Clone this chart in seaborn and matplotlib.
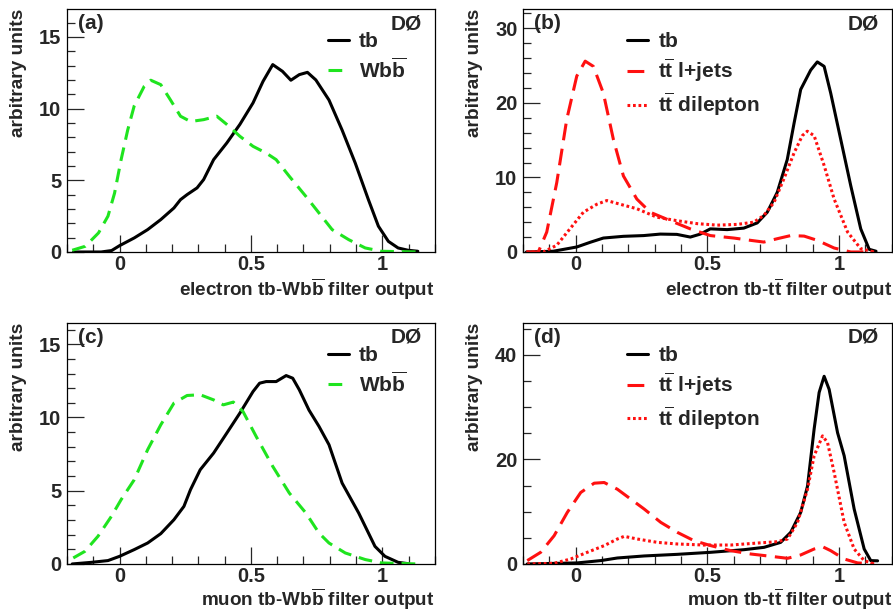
import matplotlib
matplotlib.use("Agg")
import matplotlib.pyplot as plt
from matplotlib.ticker import MultipleLocator
import seaborn as sns
import pandas as pd

# panel (a): electron tb-Wbb filter
a_tb_x = [-0.175, -0.07, -0.03, 0.0, 0.056, 0.107, 0.157, 0.207, 0.232, 0.257, 0.295, 0.32, 0.358,
          0.408, 0.458, 0.508, 0.546, 0.583, 0.62, 0.652, 0.684, 0.715, 0.747, 0.797, 0.847, 0.897,
          0.947, 0.985, 1.023, 1.06, 1.098, 1.135]
a_tb_y = [0.0, 0.0, 0.1, 0.44, 0.98, 1.56, 2.26, 3.07, 3.65, 4.0, 4.47, 5.05, 6.44,
          7.6, 8.9, 10.4, 11.9, 13.07, 12.6, 11.98, 12.37, 12.53, 12.0, 10.6, 8.5, 6.2,
          3.65, 1.8, 0.74, 0.28, 0.12, 0.05]
a_wbb_x = [-0.18, -0.13, -0.08, -0.044, -0.019, 0.006, 0.031, 0.056, 0.094, 0.119, 0.157, 0.194,
           0.232, 0.27, 0.32, 0.37, 0.408, 0.458, 0.508, 0.558, 0.596, 0.646, 0.709, 0.759, 0.809,
           0.872, 0.935, 0.997, 1.135]
a_wbb_y = [0.12, 0.4, 1.33, 2.5, 4.1, 6.44, 8.5, 10.2, 11.56, 11.98, 11.67, 10.6,
           9.47, 9.1, 9.23, 9.47, 8.9, 8.07, 7.37, 6.9, 6.44, 5.28, 3.88, 2.72, 1.56,
           0.86, 0.28, 0.05, 0.0]

# panel (b): electron tb-ttbar filter
b_tb_x = [-0.187, -0.085, 0.004, 0.055, 0.105, 0.181, 0.258, 0.321, 0.384, 0.435, 0.473, 0.511,
          0.575, 0.638, 0.689, 0.727, 0.765, 0.803, 0.829, 0.854, 0.892, 0.917, 0.943, 0.968,
          1.006, 1.044, 1.082, 1.114, 1.14]
b_tb_y = [0.0, 0.1, 0.67, 1.3, 1.87, 2.1, 2.2, 2.4, 2.36, 2.0, 2.4, 3.1,
          3.0, 3.2, 3.9, 5.33, 8.0, 12.4, 17.3, 21.8, 24.4, 25.5, 24.9, 21.3,
          15.1, 8.9, 3.1, 0.36, 0.1]
b_lj_x = [-0.187, -0.142, -0.11, -0.072, -0.034, 0.004, 0.036, 0.067, 0.105, 0.143, 0.181, 0.232,
          0.283, 0.359, 0.435, 0.511, 0.6, 0.664, 0.714, 0.765, 0.816, 0.867, 0.917, 0.981,
          1.044, 1.133]
b_lj_y = [0.0, 0.0, 2.67, 9.3, 17.8, 23.6, 25.6, 24.9, 21.3, 15.1, 10.2, 7.1,
          5.33, 4.2, 3.1, 2.2, 1.87, 1.56, 1.33, 1.78, 2.2, 2.13, 1.56, 0.53,
          0.0, 0.0]
b_dl_x = [-0.187, -0.123, -0.072, -0.022, 0.029, 0.08, 0.118, 0.169, 0.232, 0.308, 0.384, 0.461,
          0.537, 0.613, 0.676, 0.714, 0.753, 0.79, 0.829, 0.86, 0.879, 0.905, 0.943, 0.981,
          1.032, 1.082, 1.133]
b_dl_y = [0.0, 0.0, 0.9, 3.1, 5.33, 6.4, 6.9, 6.4, 5.8, 4.67, 4.2, 3.8,
          3.6, 3.7, 4.0, 4.9, 6.67, 9.8, 13.3, 15.6, 16.2, 15.6, 11.6, 7.1,
          2.67, 0.44, 0.0]

# panel (c): muon tb-Wbb filter
c_tb_x = [-0.18, -0.107, -0.044, 0.0, 0.056, 0.107, 0.157, 0.207, 0.245, 0.27, 0.307, 0.358,
          0.408, 0.458, 0.508, 0.533, 0.558, 0.596, 0.634, 0.659, 0.684, 0.721, 0.759, 0.797,
          0.847, 0.91, 0.972, 1.01, 1.06, 1.098]
c_tb_y = [0.0, 0.11, 0.23, 0.52, 0.98, 1.43, 2.07, 3.02, 3.93, 5.07, 6.43, 7.57,
          8.93, 10.3, 11.77, 12.34, 12.45, 12.45, 12.86, 12.68, 11.89, 10.5, 9.39, 8.14,
          5.52, 3.48, 1.2, 0.52, 0.11, 0.02]
c_wbb_x = [-0.176, -0.132, -0.082, -0.031, 0.006, 0.056, 0.107, 0.157, 0.207, 0.257, 0.307, 0.358,
           0.395, 0.433, 0.47, 0.52, 0.583, 0.646, 0.709, 0.759, 0.797, 0.859, 0.935, 0.997, 1.135]
c_wbb_y = [0.41, 0.86, 1.89, 3.25, 4.39, 5.75, 7.8, 9.5, 10.98, 11.5, 11.55, 11.2,
           10.86, 11.05, 10.4, 8.7, 6.66, 4.84, 3.48, 2.11, 1.43, 0.75, 0.3, 0.07, 0.0]

# panel (d): muon tb-ttbar filter
d_tb_x = [-0.184, 0.006, 0.095, 0.158, 0.26, 0.386, 0.513, 0.639, 0.715, 0.778, 0.816, 0.854,
          0.88, 0.905, 0.924, 0.943, 0.962, 0.994, 1.019, 1.057, 1.095, 1.12, 1.146]
d_tb_y = [0.0, 0.2, 0.64, 1.14, 1.53, 1.84, 2.23, 2.73, 3.18, 4.13, 6.04, 9.86,
          14.9, 25.8, 32.8, 35.9, 33.4, 25.1, 20.7, 10.5, 2.86, 0.64, 0.6]
d_lj_x = [-0.184, -0.133, -0.082, -0.032, 0.019, 0.07, 0.108, 0.158, 0.209, 0.26, 0.323, 0.386,
          0.449, 0.513, 0.589, 0.665, 0.741, 0.804, 0.854, 0.905, 0.937, 0.968, 1.019, 1.07, 1.133]
d_lj_y = [0.64, 2.23, 5.4, 9.86, 13.67, 15.45, 15.58, 14.3, 12.4, 10.5, 7.95, 6.04,
          4.45, 3.5, 2.54, 1.9, 1.46, 1.08, 1.72, 2.86, 3.3, 2.54, 0.95, 0.2, 0.0]
d_dl_x = [-0.184, -0.082, -0.019, 0.044, 0.108, 0.158, 0.184, 0.234, 0.31, 0.386, 0.487, 0.589,
          0.69, 0.766, 0.804, 0.842, 0.88, 0.905, 0.937, 0.956, 0.981, 1.019, 1.057, 1.095, 1.133]
d_dl_y = [0.0, 0.13, 0.95, 2.23, 3.5, 4.77, 5.28, 4.77, 4.13, 3.82, 3.62, 3.62,
          4.0, 4.26, 4.77, 7.95, 14.3, 20.7, 24.5, 23.2, 17.5, 7.95, 2.86, 0.64, 0.0]

lab_tb = "tb"
lab_wbb = r"Wb$\overline{\mathrm{b}}$"
lab_lj = r"t$\overline{\mathrm{t}}$ l+jets"
lab_dl = r"t$\overline{\mathrm{t}}$ dilepton"

sns.set_theme(style="ticks")
plt.rcParams['font.family'] = ['Liberation Sans', 'DejaVu Sans']
plt.rcParams['font.weight'] = 'bold'
plt.rcParams['mathtext.fontset'] = 'custom'
plt.rcParams['mathtext.rm'] = 'Liberation Sans:bold'
plt.rcParams['mathtext.it'] = 'Liberation Sans:bold'
plt.rcParams['mathtext.bf'] = 'Liberation Sans:bold'

GREEN = '#1fe41f'
RED = '#ff1010'
LW = 2.2

fig = plt.figure(figsize=(8.93, 6.11), dpi=100)
boxes = {
    'a': [0.075, 0.5876, 0.412, 0.3977],
    'b': [0.5857, 0.5876, 0.413, 0.3977],
    'c': [0.075, 0.077, 0.412, 0.3944],
    'd': [0.5857, 0.077, 0.413, 0.3944],
}

panels = [
    ('a', [(a_tb_x, a_tb_y, lab_tb, 'black', '-'),
           (a_wbb_x, a_wbb_y, lab_wbb, GREEN, (0, (4.5, 2.6)))],
     16.95, 5, 1, r"electron tb-Wb$\overline{\mathrm{b}}$ filter output", 0.709, -0.1),
    ('b', [(b_tb_x, b_tb_y, lab_tb, 'black', '-'),
           (b_lj_x, b_lj_y, lab_lj, RED, (0, (5.5, 2.8))),
           (b_dl_x, b_dl_y, lab_dl, RED, (0, (0.9, 0.9)))],
     32.6, 10, 2, r"electron tb-t$\overline{\mathrm{t}}$ filter output", 0.282, -0.1),
    ('c', [(c_tb_x, c_tb_y, lab_tb, 'black', '-'),
           (c_wbb_x, c_wbb_y, lab_wbb, GREEN, (0, (4.5, 2.6)))],
     16.45, 5, 1, r"muon tb-Wb$\overline{\mathrm{b}}$ filter output", 0.709, -0.093),
    ('d', [(d_tb_x, d_tb_y, lab_tb, 'black', '-'),
           (d_lj_x, d_lj_y, lab_lj, RED, (0, (5.5, 2.8))),
           (d_dl_x, d_dl_y, lab_dl, RED, (0, (0.9, 0.9)))],
     46.1, 20, 5, r"muon tb-t$\overline{\mathrm{t}}$ filter output", 0.282, -0.093),
]

for key, series, ytop, ymaj, ymin, xlab, legx, xlab_y in panels:
    ax = fig.add_axes(boxes[key])
    for xs, ys, lab, col, ls in series:
        df = pd.DataFrame({'x': xs, 'y': ys})
        sns.lineplot(data=df, x='x', y='y', ax=ax, color=col, linewidth=LW, label=lab)
        ax.lines[-1].set_linestyle(ls)
    ax.set_xlim(-0.2, 1.2)
    ax.set_ylim(0, ytop)
    ax.xaxis.set_major_locator(MultipleLocator(0.5))
    ax.xaxis.set_minor_locator(MultipleLocator(0.1))
    ax.yaxis.set_major_locator(MultipleLocator(ymaj))
    ax.yaxis.set_minor_locator(MultipleLocator(ymin))
    ax.xaxis.set_major_formatter(plt.FuncFormatter(lambda v, p: f"{v:g}"))
    ax.tick_params(which='both', direction='in', top=False, right=False, width=0.9)
    ax.tick_params(which='major', length=12, labelsize=14.5, pad=4)
    ax.tick_params(axis='x', which='major', pad=2.5)
    ax.tick_params(which='minor', length=6)
    for s in ax.spines.values():
        s.set_linewidth(0.9)
        s.set_color('black')
    ax.set_xlabel(xlab, fontsize=13.6, fontweight='bold', ha='right')
    ax.xaxis.set_label_coords(1.0, xlab_y)
    ax.set_ylabel("arbitrary units", fontsize=13.8, fontweight='bold', ha='right')
    ax.yaxis.set_label_coords(-0.109, 1.0)
    ax.text(0.03, 0.94, f"({key})", transform=ax.transAxes, fontsize=15,
            fontweight='bold', ha='left', va='center')
    ax.text(0.964, 0.94, "DØ", transform=ax.transAxes, fontsize=15,
            fontweight='bold', ha='right', va='center')
    leg = ax.legend(loc='upper left', bbox_to_anchor=(legx, 0.905), frameon=False,
                    fontsize=15, handlelength=1.0, handletextpad=0.5,
                    labelspacing=0.3, borderpad=0, borderaxespad=0)
    for t in leg.get_texts():
        t.set_fontweight('bold')

fig.savefig("out.png", dpi=100)
